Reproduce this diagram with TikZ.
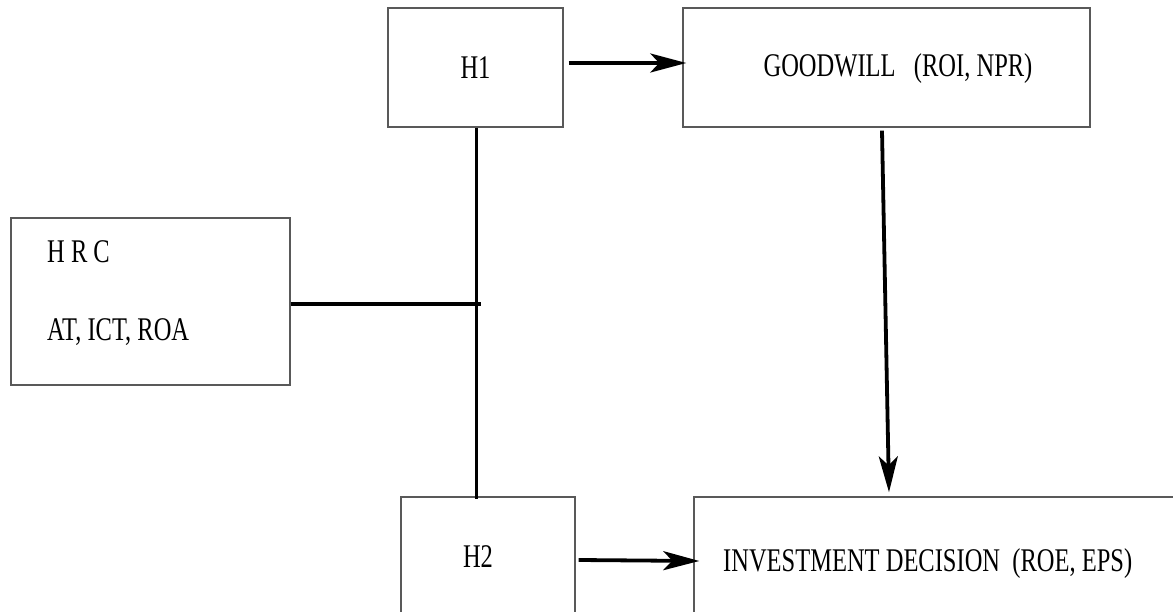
\documentclass[tikz,border=0pt]{standalone}
\usepackage{fontspec}
\setmainfont{Liberation Serif}
\usetikzlibrary{arrows.meta}
\newcommand{\vstretch}[1]{\scalebox{1}[1.35]{#1}}
\begin{document}
\begin{tikzpicture}[x=1pt,y=-1pt,
  box/.style={draw=black!65, line width=1.4pt, rectangle, inner sep=0pt},
  lbl/.style={inner sep=0pt, font=\fontsize{24.5}{29}\selectfont},
  conn/.style={line width=3.8pt, draw=black},
  arr/.style={conn, -{Stealth[length=36pt,width=19pt,inset=9pt]}}]
\useasboundingbox (0,0) rectangle (1173,612);
\clip (0,0) rectangle (1173,612);

% boxes
\node[box, lbl, minimum width=175pt, minimum height=119pt] (h1) at (475.5,67.5) {\vstretch{H1}};
\node[box, minimum width=407pt, minimum height=119pt] (gw) at (886.5,67.5) {};
\node[box, minimum width=279pt, minimum height=167pt] (hrc) at (150.5,301.5) {};
\node[box, minimum width=174pt, minimum height=126pt] (h2) at (488,560) {};
\node[box, minimum width=508pt, minimum height=128pt] (inv) at (948,561) {};

% labels
\node[lbl, anchor=base] (gwt) at (898,77) {\vstretch{GOODWILL\hspace{0.75em}(ROI, NPR)}};
\node[lbl, anchor=base west] (hrct1) at (47,263) {\vstretch{H R C}};
\node[lbl, anchor=base west] (hrct2) at (47,340.5) {\vstretch{AT, ICT, ROA}};
\node[lbl, anchor=base] (h2t) at (478,567.5) {\vstretch{H2}};
\node[lbl, anchor=base west] (invt) at (723,571.5) {\vstretch{INVESTMENT DECISION\hspace{0.5em}(ROE, EPS)}};

% connectors
\draw[conn] ([xshift=1pt]h1.south) -- ([xshift=1pt,yshift=-3pt]h1.south |- h2.north);
\coordinate (hj) at (481,304);
\draw[conn, line width=3.4pt] (hrc.east |- hj) -- (hj);
\draw[arr] ([xshift=5pt,yshift=4.5pt]h1.east) -- ([xshift=4pt,yshift=4.5pt]gw.west);
\draw[arr] ([xshift=3pt,yshift=0pt]h2.east) -- ([xshift=6pt,yshift=0pt]inv.west);
\draw[arr] ([xshift=-4.5pt,yshift=-3pt]gw.south) -- ([xshift=-59pt,yshift=4pt]inv.north);
\end{tikzpicture}
\end{document}
